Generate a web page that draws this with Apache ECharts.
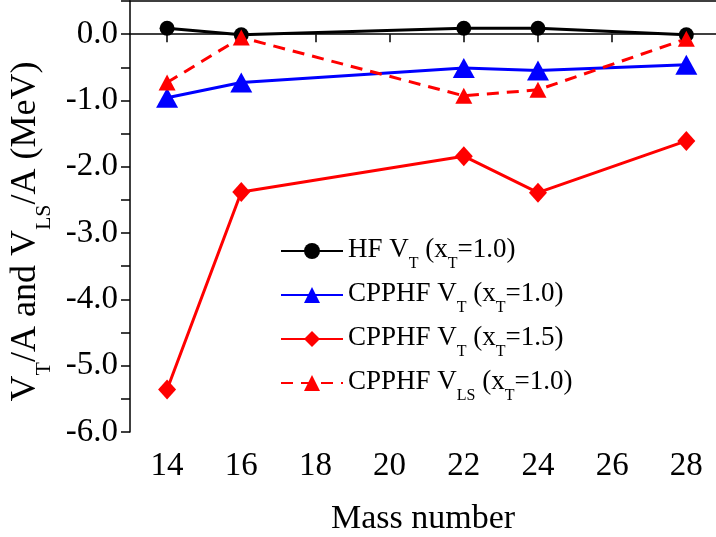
<!DOCTYPE html>
<html>
<head>
<meta charset="utf-8">
<script src="https://cdn.jsdelivr.net/npm/echarts@6/dist/echarts.min.js"></script>
<style>
  html, body { margin: 0; padding: 0; background: #fff; }
  #chart { width: 716px; height: 537px; }
</style>
</head>
<body>
<div id="chart"></div>
<script>
// 质量数
const massNumbers = [14, 16, 22, 24, 28]

// 每核子势能 (MeV)
const hfVT = [0.09, -0.01, 0.09, 0.09, -0.01]
const cpphfVT10 = [-0.96, -0.73, -0.51, -0.55, -0.46]
const cpphfVT15 = [-5.36, -2.38, -1.84, -2.39, -1.61]
const cpphfVLS10 = [-0.73, -0.05, -0.93, -0.84, -0.07]

const seriesNames = [
  'HF V{s|T} (x{s|T}=1.0)',
  'CPPHF V{s|T} (x{s|T}=1.0)',
  'CPPHF V{s|T} (x{s|T}=1.5)',
  'CPPHF V{s|LS} (x{s|T}=1.0)'
]

const xTicks = [14, 16, 18, 20, 22, 24, 26, 28]

const font = 'Liberation Serif'

function pairs(ys) {
  return massNumbers.map((x, i) => [x, ys[i]])
}

// 把普通文字包成 {m|...}, 下标保持 {s|...}
function richify(str) {
  return str.split(/(\{s\|[^}]*\})/).filter(t => t).map(t => t.startsWith('{s|') ? t : '{m|' + t + '}').join('')
}

const chart = echarts.init(document.getElementById('chart'), null, { renderer: 'canvas' })

const option = {
  animation: false,
  backgroundColor: '#fff',
  textStyle: { fontFamily: font, color: '#000' },
  grid: {
    left: 130,
    right: 0,
    top: 1,
    bottom: 105,
    outerBoundsMode: 'none'
  },
  legend: {
    orient: 'vertical',
    left: 280,
    top: 236,
    padding: 0,
    itemWidth: 62,
    itemHeight: 20,
    itemGap: 8,
    data: seriesNames,
    formatter: name => richify(name),
    textStyle: {
      color: '#000',
      fontFamily: font,
      rich: {
        m: { fontSize: 27, lineHeight: 30, verticalAlign: 'top', fontFamily: font, color: '#000' },
        s: { fontSize: 16, lineHeight: 16, verticalAlign: 'top', padding: [20, 0, 0, 0], fontFamily: font, color: '#000' }
      }
    }
  },
  xAxis: [{
    type: 'value',
    min: 13,
    max: 28.8,
    name: 'Mass number',
    nameLocation: 'middle',
    nameGap: 70,
    nameTextStyle: { fontFamily: font, fontSize: 34, color: '#000' },
    axisLine: { show: true, lineStyle: { color: '#000', width: 1.5 } },
    axisTick: { show: true, inside: false, length: 8, customValues: xTicks, lineStyle: { color: '#000', width: 1.5 } },
    axisLabel: { customValues: xTicks, margin: 18, fontFamily: font, fontSize: 33, color: '#000' },
    splitLine: { show: false }
  }, {
    type: 'value',
    position: 'top',
    min: 13,
    max: 28.8,
    axisLine: { show: true, onZero: false, lineStyle: { color: '#000', width: 1.5 } },
    axisTick: { show: false },
    axisLabel: { show: false },
    splitLine: { show: false }
  }],
  yAxis: {
    type: 'value',
    min: -6,
    max: 0.5,
    interval: 0.5,
    name: richify('V{s|T}/A and V{s|LS}/A (MeV)'),
    nameLocation: 'middle',
    nameGap: 80,
    nameTextStyle: {
      fontFamily: font,
      padding: [0, 30, 0, 0],
      rich: {
        m: { fontSize: 36, lineHeight: 40, verticalAlign: 'top', fontFamily: font, color: '#000' },
        s: { fontSize: 22, lineHeight: 22, verticalAlign: 'top', padding: [25, 0, 0, 0], fontFamily: font, color: '#000' }
      }
    },
    axisLine: { show: true, onZero: false, lineStyle: { color: '#000', width: 1.5 } },
    axisTick: { show: true, inside: false, length: 9, lineStyle: { color: '#000', width: 1.5 } },
    axisLabel: {
      margin: 12,
      fontFamily: font,
      fontSize: 33,
      color: '#000',
      formatter: v => Number.isInteger(v) ? v.toFixed(1) : ''
    },
    splitLine: { show: false }
  },
  series: [{
    name: seriesNames[0],
    type: 'line',
    data: pairs(hfVT),
    symbol: 'circle',
    symbolSize: 15,
    color: '#000',
    lineStyle: { color: '#000', width: 3 },
    itemStyle: { color: '#000' }
  }, {
    name: seriesNames[1],
    type: 'line',
    data: pairs(cpphfVT10),
    symbol: 'triangle',
    symbolSize: [22, 20],
    color: '#0000ff',
    lineStyle: { color: '#0000ff', width: 3 },
    itemStyle: { color: '#0000ff' }
  }, {
    name: seriesNames[2],
    type: 'line',
    data: pairs(cpphfVT15),
    symbol: 'diamond',
    symbolSize: [18, 20],
    color: '#ff0000',
    lineStyle: { color: '#ff0000', width: 3 },
    itemStyle: { color: '#ff0000' }
  }, {
    name: seriesNames[3],
    type: 'line',
    data: pairs(cpphfVLS10),
    symbol: 'triangle',
    symbolSize: [17, 16],
    color: '#ff0000',
    lineStyle: { color: '#ff0000', width: 3, type: [12, 8] },
    itemStyle: { color: '#ff0000' }
  }]
}

chart.setOption(option)
</script>
</body>
</html>
